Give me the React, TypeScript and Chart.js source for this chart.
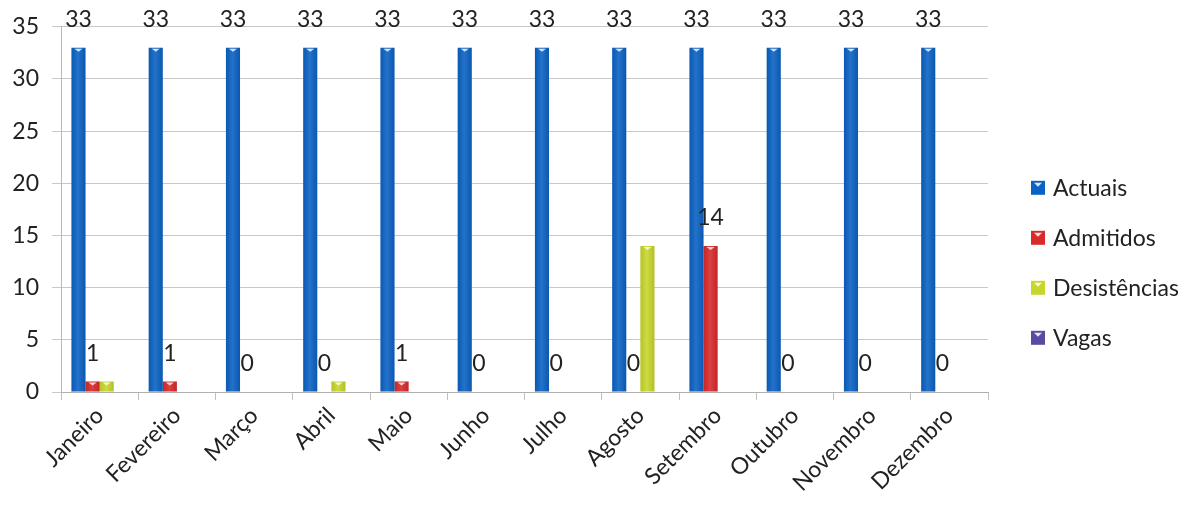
import { useEffect, useRef } from "react";
import { Chart, registerables } from "chart.js";

Chart.register(...registerables);

const months = [
  "Janeiro", "Fevereiro", "Março", "Abril", "Maio", "Junho",
  "Julho", "Agosto", "Setembro", "Outubro", "Novembro", "Dezembro",
];
const actuais = [33, 33, 33, 33, 33, 33, 33, 33, 33, 33, 33, 33];
const admitidos = [1, 1, 0, 0, 1, 0, 0, 0, 14, 0, 0, 0];
const desistencias = [1, 0, 0, 1, 0, 0, 0, 14, 0, 0, 0, 0];
const vagas = [0, 0, 0, 0, 0, 0, 0, 0, 0, 0, 0, 0];
const seriesNames = ["Actuais", "Admitidos", "Desistências", "Vagas"];
const seriesColors = ["#0b62c4", "#d82a2a", "#c8d62c", "#5a4aa2"];
const yMin = 0;
const yMax = 35;
const yStep = 5;
const labelledSeries = [0, 1];

const FONT = "Lato, 'Open Sans', sans-serif";
const TEXT = "#222222";

const valueLabels = {
  id: "valueLabels",
  afterDatasetsDraw(chart: any) {
    const ctx = chart.ctx;
    const y = chart.scales.y;
    ctx.save();
    ctx.font = `23px ${FONT}`;
    ctx.fillStyle = TEXT;
    ctx.textAlign = "center";
    ctx.textBaseline = "middle";
    labelledSeries.forEach((di) => {
      const meta = chart.getDatasetMeta(di);
      const data = chart.data.datasets[di].data as number[];
      meta.data.forEach((bar: any, i: number) => {
        const py = y.getPixelForValue(data[i]) - 28;
        ctx.fillText(String(data[i]), bar.x, py);
      });
    });
    ctx.restore();
  },
};

const sideLegend = {
  id: "sideLegend",
  afterDraw(chart: any) {
    const ctx = chart.ctx;
    const area = chart.chartArea;
    const x0 = area.right + 43;
    let yc = area.top + 161;
    ctx.save();
    ctx.font = `23px ${FONT}`;
    ctx.textBaseline = "middle";
    ctx.textAlign = "left";
    chart.data.datasets.forEach((ds: any) => {
      ctx.fillStyle = ds.backgroundColor;
      ctx.fillRect(x0, yc - 7, 14, 14);
      ctx.fillStyle = "rgba(255,255,255,0.85)";
      ctx.beginPath();
      ctx.moveTo(x0 + 3, yc - 5);
      ctx.lineTo(x0 + 11, yc - 5);
      ctx.lineTo(x0 + 7, yc - 1);
      ctx.closePath();
      ctx.fill();
      ctx.fillStyle = TEXT;
      ctx.fillText(ds.label, x0 + 22, yc + 1);
      yc += 50;
    });
    ctx.restore();
  },
};

const barCaps = {
  id: "barCaps",
  afterDatasetsDraw(chart: any) {
    const ctx = chart.ctx;
    ctx.save();
    chart.data.datasets.forEach((_ds: any, di: number) => {
      const meta = chart.getDatasetMeta(di);
      meta.data.forEach((bar: any) => {
        const h = bar.base - bar.y;
        if (h < 2) return;
        const w = bar.width;
        const l = bar.x - w / 2;
        const g = ctx.createLinearGradient(l, 0, l + w, 0);
        g.addColorStop(0, "rgba(0,0,0,0.08)");
        g.addColorStop(0.45, "rgba(255,255,255,0.10)");
        g.addColorStop(1, "rgba(0,0,0,0.10)");
        ctx.fillStyle = g;
        ctx.fillRect(l, bar.y, w, h);
        ctx.fillStyle = "rgba(255,255,255,0.8)";
        ctx.beginPath();
        ctx.moveTo(bar.x - 4, bar.y + 1);
        ctx.lineTo(bar.x + 4, bar.y + 1);
        ctx.lineTo(bar.x, bar.y + 4);
        ctx.closePath();
        ctx.fill();
      });
    });
    ctx.restore();
  },
};

export default function App() {
  const ref = useRef<HTMLCanvasElement>(null);

  useEffect(() => {
    if (!ref.current) return;
    const series = [actuais, admitidos, desistencias, vagas];
    const chart = new Chart(ref.current, {
      type: "bar",
      data: {
        labels: months,
        datasets: series.map((d, i) => ({
          label: seriesNames[i],
          data: d,
          backgroundColor: seriesColors[i],
          borderWidth: 0,
          barPercentage: 1,
          categoryPercentage: 0.73,
        })),
      },
      options: {
        animation: false,
        responsive: true,
        maintainAspectRatio: false,
        layout: { padding: { top: 26, right: 212, left: 0, bottom: 0 } },
        plugins: {
          legend: { display: false },
          tooltip: { enabled: false },
        },
        scales: {
          x: {
            offset: true,
            grid: {
              display: true,
              offset: true,
              drawOnChartArea: false,
              drawTicks: true,
              tickLength: 8,
              color: "#c0c0c0",
            },
            border: { display: true, color: "#b0b0b0" },
            ticks: {
              minRotation: 45,
              maxRotation: 45,
              padding: 2,
              color: TEXT,
              font: { family: FONT, size: 23 },
            },
            afterFit: (s: any) => {
              s.height = 118;
            },
          },
          y: {
            min: yMin,
            max: yMax,
            ticks: {
              stepSize: yStep,
              padding: 13,
              color: TEXT,
              font: { family: FONT, size: 23 },
            },
            grid: { color: "#c8c8c8", tickLength: 9 },
            border: { display: true, color: "#b8b8b8" },
            afterFit: (s: any) => {
              s.width = 61;
            },
          },
        },
      },
      plugins: [barCaps, valueLabels, sideLegend],
    });
    return () => chart.destroy();
  }, []);

  return (
    <div style={{ position: "fixed", left: 0, top: 0, width: 1200, height: 510, background: "#fff" }}>
      <canvas ref={ref} />
    </div>
  );
}
